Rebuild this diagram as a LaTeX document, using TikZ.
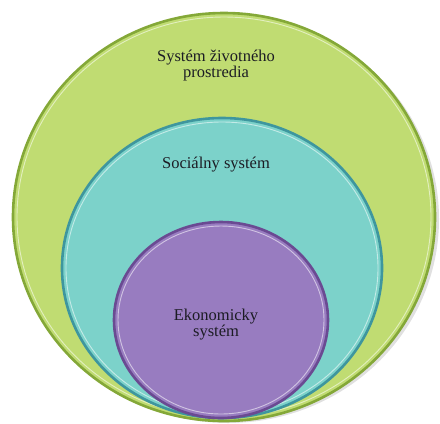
\documentclass[tikz,border=0pt]{standalone}
\usepackage{fontspec}
\setmainfont{Liberation Serif}
\usepackage{xcolor}
\usetikzlibrary{shapes.geometric, positioning}

\definecolor{envfill}{RGB}{192,220,114}
\definecolor{envline}{RGB}{132,168,56}
\definecolor{socfill}{RGB}{124,210,202}
\definecolor{socline}{RGB}{62,150,158}
\definecolor{ekofill}{RGB}{152,124,192}
\definecolor{ekoline}{RGB}{106,74,146}
\definecolor{txt}{RGB}{28,28,36}

\begin{document}
\begin{tikzpicture}[
    x=1bp, y=-1bp,
    ring/.style={ellipse, draw, line width=2.6bp, inner sep=0pt},
    rim/.style={draw=white, line width=0.9bp, opacity=0.55},
    lbl/.style={align=center, text=txt, font=\fontsize{16.5bp}{15bp}\selectfont}
]
\useasboundingbox (0,0) rectangle (440,423);

% soft shadow behind the outer ring
\fill[black, opacity=0.12] (228,219) ellipse [x radius=211, y radius=204];

\node[ring, fill=envfill, draw=envline, minimum width=422bp, minimum height=408bp] (env) at (224,217) {};
\draw[rim] (224,217) ellipse [x radius=207, y radius=200];

\node[ring, fill=socfill, draw=socline, minimum width=320bp, minimum height=300bp] (soc) at (222,268) {};
\draw[rim] (222,268) ellipse [x radius=156, y radius=146];

\node[ring, fill=ekofill, draw=ekoline, minimum width=214bp, minimum height=196bp] (eko) at (221,320) {};
\draw[rim] (221,320) ellipse [x radius=103, y radius=94];

% labels
\node[lbl] (envlbl) at (216,66) {Systém životného\\prostredia};
\node[lbl] (soclbl) at (216,165) {Sociálny systém};
\node[lbl] (ekolbl) at (216,325) {Ekonomicky\\systém};
\end{tikzpicture}
\end{document}
